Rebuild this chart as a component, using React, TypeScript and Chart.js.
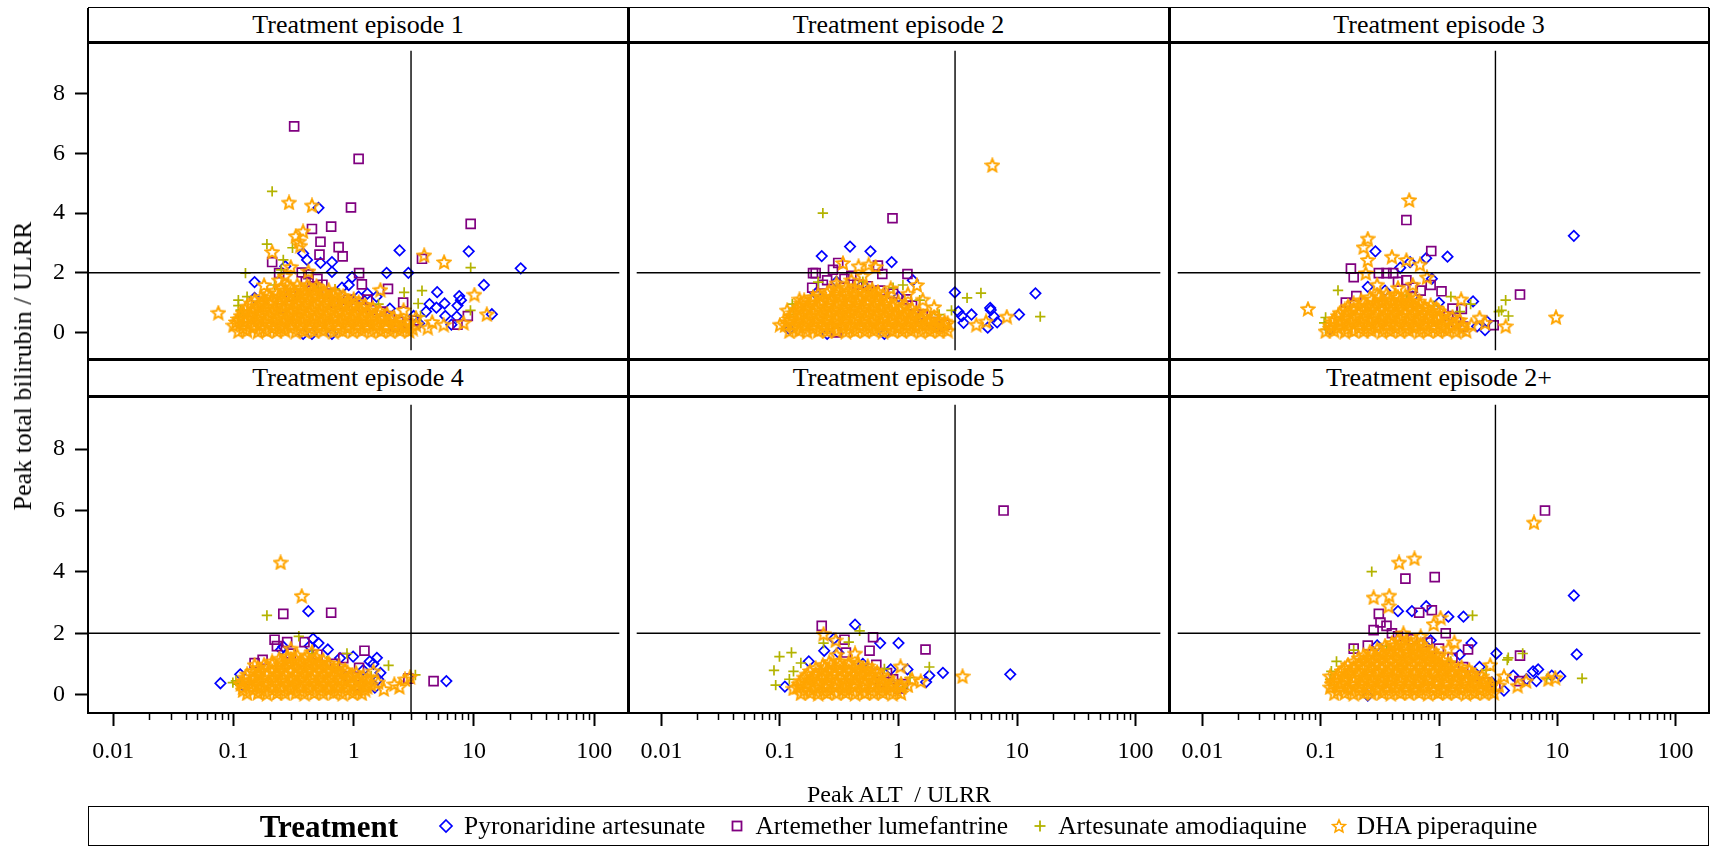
import React, { useEffect, useRef } from "react";
import { Chart, registerables } from "chart.js";
Chart.register(...registerables);

// ---------------- text / ticks ----------------
const TREATMENTS = ["Pyronaridine artesunate", "Artemether lumefantrine", "Artesunate amodiaquine", "DHA piperaquine"];
const PANEL_TITLES = ["Treatment episode 1", "Treatment episode 2", "Treatment episode 3", "Treatment episode 4", "Treatment episode 5", "Treatment episode 2+"];
const X_TICKS = [0.01, 0.1, 1, 10, 100];
const X_TICK_LABELS = ["0.01", "0.1", "1", "10", "100"];
const X_MINOR_DECADES = [0.01, 0.1, 1, 10];
const X_MINOR_MULT = [2, 3, 4, 5, 6, 7, 8, 9];
const Y_TICKS = [0, 2, 4, 6, 8];
const X_MIN = 0.00618;
const X_MAX = 161.8;
const Y_MIN = -0.6;
const Y_MAX = 9.45;
const REF_X = 3;
const REF_Y = 2;
const X_TITLE = "Peak ALT  / ULRR";
const Y_TITLE = "Peak total bilirubin / ULRR";
const LEGEND_TITLE = "Treatment";

// ---------------- data: flat [x, y, x, y, ...] ----------------
// Episode 1
const ep1PA = [0.51,4.18, 2.41,2.75, 9.05,2.72, 24.5,2.15, 1.88,2.0, 2.85,2.0, 12.1,1.59, 4.95,1.35, 7.55,1.22, 7.8,1.08, 5.7,0.97, 4.27,0.95, 4.88,0.83, 7.3,0.9, 5.78,0.55, 7.2,0.53, 14.1,0.61, 6.5,0.26, 3.15,0.55, 0.38,2.65, 0.41,2.43, 0.27,2.22, 0.53,2.33, 0.66,2.36, 0.66,2.03, 0.97,1.85, 0.91,1.59, 0.15,1.69, 0.15,1.16, 0.38,-0.05, 0.45,-0.05, 0.66,-0.05, 1.3,1.3, 1.55,1.2, 3.5,0.3, 4.0,0.7, 0.8,1.5, 1.1,1.2, 2.0,0.8];
const ep1AL = [0.32,6.91, 1.1,5.82, 0.95,4.19, 9.4,3.64, 0.45,3.47, 0.65,3.55, 0.53,3.04, 0.75,2.86, 0.52,2.61, 0.81,2.55, 0.21,2.36, 3.7,2.47, 0.24,1.99, 1.11,1.99, 1.17,1.61, 1.93,1.46, 8.9,0.55, 7.3,0.26, 0.37,2.01, 2.58,1.0, 0.42,1.95, 0.5,1.8, 0.7,1.0, 0.8,0.95, 0.9,1.1, 1.0,0.9, 1.2,0.85, 1.4,0.75, 1.7,0.7, 2.0,0.55, 2.4,0.35, 2.8,0.3, 3.2,0.4, 0.6,1.3, 0.45,1.55, 0.55,1.6, 0.4,1.7, 1.3,1.1, 2.2,0.2, 0.3,1.2, 0.25,0.8];
const ep1ASAQ = [0.21,4.73, 0.19,2.96, 0.31,2.84, 0.26,2.43, 0.126,1.99, 9.4,2.17, 2.63,1.34, 3.44,0.97, 9.36,0.74, 0.22,1.59, 0.11,1.08, 0.11,0.9, 0.115,0.75, 0.12,0.64, 0.11,0.5, 0.12,0.35, 1.61,0.95, 0.25,2.1, 3.6,0.55, 0.13,1.2, 0.5,1.5, 0.7,1.45, 3.7,1.4];
const ep1DHA = [
  0.11,0.04, 0.13,0.06, 0.16,0.03, 0.19,0.05, 0.23,0.04, 0.27,0.06, 0.33,0.03, 0.39,0.05, 0.47,0.04, 0.56,0.06, 0.68,0.03, 0.81,0.05, 0.98,0.04, 1.17,0.06, 1.4,0.03, 1.69,0.05, 2.02,0.04, 2.43,0.06, 2.9,0.05,
  0.12,0.14, 0.145,0.16, 0.175,0.13, 0.21,0.15, 0.25,0.14, 0.3,0.16, 0.36,0.13, 0.43,0.15, 0.51,0.14, 0.62,0.16, 0.74,0.13, 0.89,0.15, 1.07,0.14, 1.28,0.16, 1.54,0.13, 1.85,0.15, 2.22,0.14, 2.66,0.16, 3.1,0.13,
  0.1,0.24, 0.12,0.27, 0.145,0.23, 0.17,0.26, 0.21,0.25, 0.25,0.22, 0.3,0.27, 0.36,0.24, 0.43,0.26, 0.52,0.23, 0.62,0.27, 0.74,0.25, 0.89,0.22, 1.07,0.26, 1.28,0.24, 1.54,0.27, 1.85,0.23, 2.22,0.25, 2.66,0.22, 3.3,0.26,
  0.105,0.35, 0.125,0.37, 0.15,0.34, 0.18,0.36, 0.22,0.35, 0.26,0.33, 0.31,0.37, 0.37,0.34, 0.44,0.36, 0.53,0.35, 0.63,0.33, 0.76,0.37, 0.91,0.34, 1.09,0.36, 1.3,0.35, 1.56,0.33, 1.88,0.37, 2.25,0.34, 2.7,0.33,
  0.11,0.45, 0.13,0.48, 0.16,0.44, 0.19,0.47, 0.23,0.46, 0.27,0.43, 0.33,0.48, 0.39,0.45, 0.47,0.47, 0.56,0.44, 0.68,0.48, 0.81,0.46, 0.98,0.43, 1.17,0.47, 1.4,0.45, 1.69,0.48, 2.05,0.44, 2.5,0.42,
  0.115,0.56, 0.14,0.58, 0.165,0.55, 0.2,0.57, 0.24,0.56, 0.29,0.54, 0.34,0.58, 0.41,0.55, 0.49,0.57, 0.59,0.56, 0.71,0.54, 0.85,0.58, 1.02,0.55, 1.22,0.57, 1.47,0.56, 1.78,0.53, 2.15,0.52,
  0.12,0.66, 0.145,0.69, 0.17,0.65, 0.21,0.68, 0.25,0.67, 0.3,0.64, 0.36,0.69, 0.43,0.66, 0.52,0.68, 0.62,0.65, 0.74,0.69, 0.89,0.67, 1.07,0.64, 1.28,0.68, 1.54,0.66, 1.9,0.62,
  0.125,0.77, 0.15,0.79, 0.18,0.76, 0.22,0.78, 0.26,0.77, 0.31,0.75, 0.37,0.79, 0.45,0.76, 0.54,0.78, 0.65,0.77, 0.78,0.75, 0.93,0.79, 1.12,0.76, 1.35,0.74, 1.65,0.72,
  0.13,0.87, 0.16,0.9, 0.19,0.86, 0.23,0.89, 0.27,0.88, 0.33,0.85, 0.39,0.9, 0.47,0.87, 0.56,0.89, 0.68,0.86, 0.81,0.9, 0.98,0.87, 1.2,0.84, 1.45,0.82,
  0.14,0.98, 0.17,1.0, 0.2,0.97, 0.24,0.99, 0.29,0.98, 0.34,0.96, 0.41,1.0, 0.49,0.97, 0.59,0.99, 0.71,0.98, 0.85,0.96, 1.02,0.95, 1.25,0.92,
  0.15,1.08, 0.18,1.11, 0.21,1.07, 0.25,1.1, 0.3,1.09, 0.36,1.06, 0.43,1.11, 0.52,1.08, 0.62,1.1, 0.74,1.07, 0.9,1.05, 1.1,1.02,
  0.17,1.19, 0.2,1.21, 0.24,1.18, 0.29,1.2, 0.34,1.19, 0.41,1.17, 0.49,1.21, 0.59,1.18, 0.71,1.17, 0.85,1.14, 1.0,1.12,
  0.19,1.28, 0.23,1.32, 0.27,1.29, 0.33,1.31, 0.39,1.3, 0.47,1.27, 0.56,1.32, 0.68,1.26, 0.82,1.22,
  0.22,1.4, 0.27,1.42, 0.32,1.39, 0.39,1.41, 0.47,1.4, 0.57,1.37, 0.7,1.34,
  0.25,1.49, 0.3,1.52, 0.36,1.48, 0.43,1.51, 0.52,1.47, 0.62,1.43,
  0.28,1.58, 0.34,1.6, 0.41,1.57, 0.49,1.56,
  0.075,0.66, 0.29,4.36, 0.45,4.26, 0.33,3.23, 0.38,3.39, 0.36,2.91, 0.21,2.7, 3.86,2.59, 5.65,2.36, 10.1,1.27, 12.8,0.61, 8.2,0.32, 5.6,0.26, 4.13,0.16, 1.67,1.43, 0.27,1.9, 0.18,1.59, 0.35,3.05, 0.3,2.2, 0.42,2.05, 0.24,1.75, 3.3,0.5, 4.5,0.35, 2.6,0.75
];
// Episode 2
const ep2PA = [0.39,2.88, 0.225,2.56, 0.58,2.72, 0.875,2.36, 2.99,1.34, 14.3,1.31, 5.94,0.82, 6.4,0.53, 10.4,0.6, 4.13,0.6, 3.42,0.55, 3.54,0.32, 5.66,0.16, 6.8,0.34, 1.32,1.75, 0.12,0.1, 0.25,-0.05, 0.76,-0.05, 0.3,1.7, 0.5,1.6, 1.0,1.2, 1.5,0.5, 2.0,0.2, 0.2,1.3, 6.0,0.75, 3.2,0.7];
const ep2AL = [0.89,3.83, 0.19,1.99, 0.2,1.99, 0.187,1.5, 0.31,2.33, 0.28,2.1, 0.67,2.24, 0.73,1.96, 1.19,1.96, 1.17,1.11, 2.45,0.26, 0.3,0.0, 0.25,1.75, 0.35,1.8, 0.45,1.6, 0.55,1.55, 0.7,1.4, 0.9,1.3, 1.3,0.9, 1.6,0.6, 1.9,0.35, 2.2,0.2, 0.23,1.6, 0.4,1.9];
const ep2ASAQ = [0.23,4.0, 3.79,1.16, 4.96,1.32, 15.7,0.53, 2.8,0.74, 1.51,1.08, 0.21,1.69, 0.127,0.95, 1.09,1.59, 0.12,0.6, 0.13,0.8, 0.5,1.7, 0.9,1.5, 2.2,0.6];
const ep2DHA = [
  0.12,0.04, 0.145,0.06, 0.17,0.03, 0.21,0.05, 0.25,0.04, 0.3,0.06, 0.36,0.03, 0.43,0.05, 0.52,0.04, 0.62,0.06, 0.74,0.03, 0.89,0.05, 1.07,0.04, 1.28,0.06, 1.54,0.03, 1.85,0.05, 2.22,0.04, 2.6,0.06,
  0.13,0.14, 0.155,0.16, 0.19,0.13, 0.23,0.15, 0.27,0.14, 0.33,0.16, 0.39,0.13, 0.47,0.15, 0.57,0.14, 0.68,0.16, 0.81,0.13, 0.98,0.15, 1.17,0.14, 1.4,0.16, 1.69,0.13, 2.02,0.15, 2.4,0.14,
  0.11,0.24, 0.13,0.27, 0.16,0.23, 0.19,0.26, 0.23,0.25, 0.27,0.22, 0.33,0.27, 0.39,0.24, 0.47,0.26, 0.56,0.23, 0.68,0.27, 0.81,0.25, 0.98,0.22, 1.17,0.26, 1.4,0.24, 1.69,0.27, 2.02,0.23, 2.45,0.25,
  0.115,0.35, 0.14,0.37, 0.165,0.34, 0.2,0.36, 0.24,0.35, 0.29,0.33, 0.35,0.37, 0.42,0.34, 0.5,0.36, 0.6,0.35, 0.72,0.33, 0.86,0.37, 1.03,0.34, 1.24,0.36, 1.48,0.35, 1.78,0.33, 2.15,0.34, 2.6,0.32,
  0.12,0.45, 0.145,0.48, 0.17,0.44, 0.21,0.47, 0.25,0.46, 0.3,0.43, 0.36,0.48, 0.43,0.45, 0.52,0.47, 0.62,0.44, 0.74,0.48, 0.89,0.46, 1.07,0.43, 1.28,0.47, 1.54,0.45, 1.85,0.44, 2.2,0.42,
  0.125,0.56, 0.15,0.58, 0.18,0.55, 0.22,0.57, 0.26,0.56, 0.31,0.54, 0.37,0.58, 0.45,0.55, 0.54,0.57, 0.65,0.56, 0.78,0.54, 0.93,0.58, 1.12,0.55, 1.35,0.57, 1.62,0.54, 2.0,0.52,
  0.13,0.66, 0.16,0.69, 0.19,0.65, 0.23,0.68, 0.27,0.67, 0.33,0.64, 0.39,0.69, 0.47,0.66, 0.56,0.68, 0.68,0.65, 0.81,0.69, 0.98,0.67, 1.17,0.64, 1.4,0.66, 1.75,0.62,
  0.14,0.77, 0.17,0.79, 0.2,0.76, 0.24,0.78, 0.29,0.77, 0.35,0.75, 0.42,0.79, 0.5,0.76, 0.6,0.78, 0.72,0.77, 0.86,0.75, 1.03,0.76, 1.24,0.73, 1.5,0.7,
  0.145,0.87, 0.17,0.9, 0.21,0.86, 0.25,0.89, 0.3,0.88, 0.36,0.85, 0.43,0.9, 0.52,0.87, 0.62,0.89, 0.74,0.86, 0.89,0.88, 1.07,0.84, 1.3,0.8,
  0.15,0.98, 0.18,1.0, 0.22,0.97, 0.26,0.99, 0.31,0.98, 0.37,0.96, 0.45,1.0, 0.54,0.97, 0.65,0.99, 0.78,0.96, 0.93,0.94, 1.15,0.9,
  0.16,1.08, 0.19,1.11, 0.23,1.07, 0.27,1.1, 0.33,1.09, 0.39,1.06, 0.47,1.11, 0.56,1.08, 0.68,1.1, 0.81,1.05, 1.0,1.02,
  0.19,1.19, 0.22,1.21, 0.27,1.18, 0.32,1.2, 0.38,1.19, 0.46,1.17, 0.55,1.21, 0.66,1.18, 0.8,1.15,
  0.21,1.28, 0.25,1.32, 0.3,1.29, 0.36,1.31, 0.43,1.3, 0.52,1.27, 0.62,1.31, 0.74,1.25,
  0.26,1.39, 0.31,1.41, 0.38,1.38, 0.46,1.4, 0.56,1.39, 0.67,1.36,
  0.3,1.48, 0.36,1.51, 0.43,1.47, 0.52,1.5, 0.6,1.45,
  6.19,5.61, 0.34,2.33, 0.46,2.22, 0.56,2.28, 0.64,2.2, 1.43,1.59, 0.86,1.48, 8.2,0.53, 4.54,0.26, 0.1,0.26, 0.115,0.74, 0.146,1.11, 2.0,0.85, 5.48,0.37, 2.45,0.37, 0.5,1.9, 0.4,1.75, 1.2,1.3, 1.6,1.1, 0.3,1.65
];
// Episode 3
const ep3PA = [13.8,3.24, 0.29,2.72, 1.18,2.54, 0.78,2.49, 0.57,2.36, 0.47,2.17, 0.87,1.8, 1.94,1.04, 2.54,0.37, 2.45,0.08, 0.25,1.53, 0.35,1.4, 0.6,1.2, 1.0,1.0, 1.3,0.5, 2.1,0.2, 0.12,0.1];
const ep3AL = [0.53,3.77, 0.86,2.73, 0.18,2.14, 0.19,1.85, 4.84,1.27, 0.2,1.22, 0.163,1.0, 1.05,1.38, 0.85,1.59, 2.9,0.24, 1.56,0.79, 0.31,1.99, 0.36,1.99, 0.41,1.99, 0.53,1.75, 0.6,1.5, 0.7,1.4, 0.45,1.7, 1.2,0.55, 1.4,0.35, 1.6,0.2, 1.3,0.8];
const ep3ASAQ = [0.14,1.41, 3.66,1.08, 3.38,0.74, 3.86,0.55, 0.107,0.32, 1.26,1.2, 1.85,0.95, 0.53,1.25, 0.11,0.1, 0.11,0.5, 0.9,0.9, 1.5,0.7, 3.2,0.7];
const ep3DHA = [
  0.11,0.04, 0.13,0.06, 0.16,0.03, 0.19,0.05, 0.23,0.04, 0.27,0.06, 0.33,0.03, 0.39,0.05, 0.47,0.04, 0.56,0.06, 0.68,0.03, 0.81,0.05, 0.98,0.04, 1.17,0.06, 1.4,0.03, 1.7,0.05,
  0.12,0.14, 0.14,0.16, 0.17,0.13, 0.21,0.15, 0.25,0.14, 0.3,0.16, 0.36,0.13, 0.43,0.15, 0.52,0.14, 0.62,0.16, 0.74,0.13, 0.89,0.15, 1.07,0.14, 1.28,0.16, 1.55,0.13,
  0.12,0.24, 0.145,0.27, 0.17,0.23, 0.21,0.26, 0.25,0.25, 0.3,0.22, 0.36,0.27, 0.43,0.24, 0.52,0.26, 0.62,0.23, 0.74,0.27, 0.89,0.25, 1.07,0.22, 1.3,0.26, 1.6,0.24,
  0.125,0.35, 0.15,0.37, 0.18,0.34, 0.22,0.36, 0.26,0.35, 0.31,0.33, 0.37,0.37, 0.45,0.34, 0.54,0.36, 0.65,0.35, 0.78,0.33, 0.93,0.37, 1.12,0.34, 1.4,0.33,
  0.13,0.45, 0.16,0.48, 0.19,0.44, 0.23,0.47, 0.27,0.46, 0.33,0.43, 0.39,0.48, 0.47,0.45, 0.56,0.47, 0.68,0.44, 0.81,0.48, 0.98,0.46, 1.2,0.43, 1.5,0.42,
  0.14,0.56, 0.165,0.58, 0.2,0.55, 0.24,0.57, 0.29,0.56, 0.34,0.54, 0.41,0.58, 0.49,0.55, 0.59,0.57, 0.71,0.56, 0.85,0.54, 1.02,0.55, 1.3,0.52,
  0.145,0.66, 0.17,0.69, 0.21,0.65, 0.25,0.68, 0.3,0.67, 0.36,0.64, 0.43,0.69, 0.52,0.66, 0.62,0.68, 0.74,0.65, 0.89,0.67, 1.1,0.62,
  0.16,0.77, 0.19,0.79, 0.23,0.76, 0.27,0.78, 0.33,0.77, 0.39,0.75, 0.47,0.79, 0.57,0.76, 0.68,0.78, 0.82,0.75, 1.0,0.72,
  0.17,0.87, 0.21,0.9, 0.25,0.86, 0.3,0.89, 0.36,0.88, 0.43,0.85, 0.52,0.9, 0.62,0.87, 0.76,0.85, 0.95,0.82,
  0.19,0.98, 0.23,1.0, 0.28,0.97, 0.33,0.99, 0.4,0.98, 0.48,0.96, 0.57,0.99, 0.69,0.95, 0.85,0.92,
  0.22,1.08, 0.27,1.11, 0.33,1.07, 0.39,1.1, 0.47,1.09, 0.56,1.06, 0.68,1.04,
  0.26,1.18, 0.31,1.2, 0.37,1.17, 0.45,1.19, 0.54,1.16, 0.63,1.14,
  0.3,1.27, 0.36,1.3, 0.43,1.26, 0.52,1.25,
  0.56,4.44, 0.25,3.15, 0.23,2.86, 0.25,2.43, 0.4,2.54, 0.53,2.43, 0.69,2.28, 0.79,1.85, 0.24,1.99, 0.078,0.79, 1.54,1.11, 9.75,0.51, 3.66,0.21, 2.45,0.32, 1.88,0.26, 0.3,1.6, 0.45,1.5, 0.6,1.6, 2.2,0.5
];
// Episode 4
const ep4PA = [0.42,2.72, 5.9,0.44, 0.078,0.37, 0.46,1.82, 0.51,1.68, 0.61,1.47, 0.43,1.58, 0.26,1.56, 0.25,1.47, 0.99,1.24, 1.56,1.2, 1.36,1.08, 1.46,1.0, 1.67,0.71, 1.5,0.23, 0.114,0.66, 0.77,1.19, 0.12,0.3, 1.2,0.8, 1.6,0.5];
const ep4AL = [0.26,2.63, 0.65,2.67, 0.22,1.79, 0.23,1.58, 0.28,1.71, 0.39,1.71, 1.23,1.43, 0.82,1.19, 0.175,1.13, 0.15,1.03, 4.62,0.44, 2.85,0.52, 1.11,0.87, 0.3,1.34, 0.5,1.3, 0.7,1.0, 0.9,0.6, 1.1,0.3];
const ep4ASAQ = [0.19,2.58, 0.35,1.9, 0.88,1.34, 1.95,0.95, 3.26,0.64, 0.099,0.39, 0.109,0.34, 0.45,1.34, 0.74,0.9, 0.105,0.45, 0.6,1.1, 1.4,0.6];
const ep4DHA = [
  0.13,0.04, 0.16,0.06, 0.19,0.03, 0.23,0.05, 0.27,0.04, 0.33,0.06, 0.39,0.03, 0.47,0.05, 0.56,0.04, 0.68,0.06, 0.81,0.03, 0.98,0.05, 1.17,0.04,
  0.12,0.14, 0.145,0.16, 0.175,0.13, 0.21,0.15, 0.25,0.14, 0.3,0.16, 0.36,0.13, 0.43,0.15, 0.52,0.14, 0.62,0.16, 0.74,0.13, 0.89,0.15, 1.07,0.14, 1.25,0.16,
  0.12,0.24, 0.145,0.27, 0.17,0.23, 0.21,0.26, 0.25,0.25, 0.3,0.22, 0.36,0.27, 0.43,0.24, 0.52,0.26, 0.62,0.23, 0.74,0.27, 0.89,0.25, 1.07,0.22, 1.3,0.26,
  0.115,0.35, 0.135,0.37, 0.16,0.34, 0.19,0.36, 0.23,0.35, 0.28,0.33, 0.33,0.37, 0.4,0.34, 0.48,0.36, 0.57,0.35, 0.68,0.33, 0.82,0.37, 0.98,0.34, 1.18,0.36, 1.4,0.33,
  0.12,0.45, 0.145,0.48, 0.17,0.44, 0.21,0.47, 0.25,0.46, 0.3,0.43, 0.36,0.48, 0.43,0.45, 0.52,0.47, 0.62,0.44, 0.74,0.48, 0.89,0.46, 1.07,0.43, 1.3,0.42,
  0.125,0.56, 0.15,0.58, 0.18,0.55, 0.22,0.57, 0.26,0.56, 0.31,0.54, 0.37,0.58, 0.45,0.55, 0.54,0.57, 0.65,0.56, 0.78,0.54, 0.93,0.58, 1.12,0.55, 1.3,0.52,
  0.13,0.66, 0.16,0.69, 0.19,0.65, 0.23,0.68, 0.27,0.67, 0.33,0.64, 0.39,0.69, 0.47,0.66, 0.56,0.68, 0.68,0.65, 0.81,0.69, 0.98,0.64, 1.2,0.6,
  0.145,0.77, 0.17,0.79, 0.21,0.76, 0.25,0.78, 0.3,0.77, 0.36,0.75, 0.43,0.79, 0.52,0.76, 0.62,0.78, 0.74,0.76, 0.89,0.74, 1.05,0.71,
  0.16,0.87, 0.19,0.9, 0.23,0.86, 0.27,0.89, 0.33,0.88, 0.39,0.85, 0.47,0.9, 0.56,0.87, 0.68,0.85, 0.85,0.8,
  0.18,0.98, 0.21,1.0, 0.25,0.97, 0.3,0.99, 0.36,0.98, 0.43,0.96, 0.52,0.99, 0.62,0.95, 0.75,0.92,
  0.21,1.08, 0.25,1.11, 0.3,1.07, 0.36,1.1, 0.43,1.09, 0.52,1.06, 0.62,1.03,
  0.24,1.17, 0.28,1.19, 0.33,1.16, 0.39,1.18, 0.47,1.15, 0.56,1.13,
  0.28,1.25, 0.34,1.28, 0.41,1.24, 0.49,1.22,
  0.247,4.31, 0.37,3.22, 1.78,0.18, 2.18,0.34, 2.67,0.5, 2.95,0.58, 1.46,0.76, 1.27,0.29, 0.15,0.97, 0.3,1.5, 0.45,1.4, 1.6,0.4, 2.4,0.25
];
// Episode 5
const ep5PA = [0.43,2.28, 0.7,1.68, 1.0,1.68, 0.236,1.43, 0.31,1.37, 0.175,1.08, 2.37,0.71, 8.77,0.66, 1.82,0.62, 1.19,0.82, 1.71,0.41, 0.11,0.26, 0.285,1.82, 0.86,0.82, 0.9,0.3, 0.5,1.0];
const ep5AL = [7.7,6.0, 0.225,2.24, 0.35,1.79, 0.61,1.87, 0.57,1.43, 1.69,1.47, 0.36,1.37, 0.65,0.97, 1.09,0.34, 0.8,0.7, 0.9,0.5, 1.0,0.2, 0.7,0.4];
const ep5ASAQ = [0.47,2.08, 0.38,1.71, 0.233,1.68, 0.099,1.24, 0.125,1.37, 0.089,0.79, 0.092,0.31, 0.13,0.76, 0.15,1.03, 1.82,0.9, 1.09,0.23, 1.25,0.55, 0.76,0.84, 0.12,0.5, 0.14,0.3];
const ep5DHA = [
  0.15,0.04, 0.18,0.06, 0.21,0.03, 0.25,0.05, 0.3,0.04, 0.36,0.06, 0.43,0.03, 0.52,0.05, 0.62,0.04, 0.74,0.06, 0.89,0.03, 1.05,0.05,
  0.16,0.14, 0.19,0.16, 0.23,0.13, 0.27,0.15, 0.33,0.14, 0.39,0.16, 0.47,0.13, 0.57,0.15, 0.68,0.14, 0.81,0.16, 0.97,0.13,
  0.14,0.24, 0.17,0.27, 0.2,0.23, 0.24,0.26, 0.29,0.25, 0.35,0.22, 0.42,0.27, 0.5,0.24, 0.6,0.26, 0.72,0.23, 0.86,0.27, 1.05,0.25,
  0.145,0.35, 0.17,0.37, 0.21,0.34, 0.25,0.36, 0.3,0.35, 0.36,0.33, 0.43,0.37, 0.52,0.34, 0.62,0.36, 0.74,0.35, 0.89,0.33, 1.05,0.36,
  0.15,0.45, 0.18,0.48, 0.21,0.44, 0.25,0.47, 0.3,0.46, 0.36,0.43, 0.43,0.48, 0.52,0.45, 0.62,0.47, 0.74,0.44, 0.9,0.42,
  0.16,0.56, 0.19,0.58, 0.23,0.55, 0.27,0.57, 0.33,0.56, 0.39,0.54, 0.47,0.58, 0.57,0.55, 0.68,0.57, 0.81,0.53,
  0.17,0.66, 0.2,0.69, 0.24,0.65, 0.29,0.68, 0.35,0.67, 0.42,0.64, 0.5,0.69, 0.6,0.66, 0.72,0.63,
  0.18,0.77, 0.22,0.79, 0.26,0.76, 0.32,0.78, 0.38,0.77, 0.46,0.75, 0.55,0.78, 0.66,0.74,
  0.2,0.87, 0.24,0.9, 0.29,0.86, 0.35,0.89, 0.42,0.88, 0.5,0.85, 0.6,0.83,
  0.23,0.97, 0.27,0.99, 0.32,0.96, 0.38,0.98, 0.46,0.95, 0.55,0.93,
  0.26,1.06, 0.32,1.09, 0.38,1.05, 0.45,1.03,
  3.47,0.6, 0.233,1.98, 0.295,1.77, 1.04,0.92, 1.54,0.44, 0.43,1.34, 0.3,1.3, 1.3,0.5, 1.2,0.3, 0.13,0.2
];
// Episode 2+
const ep6PA = [13.8,3.23, 14.6,1.31, 0.45,2.72, 0.59,2.72, 0.78,2.88, 1.2,2.54, 1.61,2.54, 1.88,1.68, 3.06,1.34, 6.24,0.76, 6.89,0.82, 8.98,0.62, 10.6,0.6, 6.66,0.44, 4.24,0.62, 3.54,0.13, 0.25,-0.03, 0.85,1.77, 0.3,1.6, 1.5,1.3, 2.2,0.9, 2.8,0.4, 5.5,0.5];
const ep6AL = [7.87,6.0, 0.52,3.78, 0.92,3.83, 0.31,2.63, 0.68,2.67, 0.87,2.75, 0.32,2.35, 0.28,2.1, 0.19,1.5, 1.76,1.47, 4.84,1.27, 4.78,0.44, 1.14,2.0, 0.36,2.24, 0.45,1.9, 0.6,1.8, 0.8,1.7, 1.0,1.5, 1.3,1.2, 1.6,0.9, 2.0,0.6, 2.5,0.4, 3.0,0.25, 0.25,1.6, 0.4,2.0];
const ep6ASAQ = [0.27,4.01, 1.92,2.58, 16.2,0.53, 3.78,1.13, 3.85,1.2, 5.1,1.34, 0.123,0.76, 0.136,1.08, 0.19,1.45, 8.13,0.52, 1.26,1.08, 0.36,1.58, 0.12,0.5, 0.13,0.3, 2.5,0.8];
const ep6DHA = [
  0.13,0.04, 0.16,0.06, 0.19,0.03, 0.23,0.05, 0.27,0.04, 0.33,0.06, 0.39,0.03, 0.47,0.05, 0.56,0.04, 0.68,0.06, 0.81,0.03, 0.98,0.05, 1.17,0.04, 1.4,0.06, 1.69,0.03, 2.02,0.05, 2.43,0.04, 2.9,0.06,
  0.14,0.14, 0.175,0.16, 0.21,0.13, 0.25,0.15, 0.3,0.14, 0.36,0.16, 0.43,0.13, 0.52,0.15, 0.62,0.14, 0.74,0.16, 0.89,0.13, 1.07,0.15, 1.28,0.14, 1.54,0.16, 1.85,0.13, 2.22,0.15, 2.66,0.14,
  0.12,0.24, 0.145,0.27, 0.17,0.23, 0.21,0.26, 0.25,0.25, 0.3,0.22, 0.36,0.27, 0.43,0.24, 0.52,0.26, 0.62,0.23, 0.74,0.27, 0.89,0.25, 1.07,0.22, 1.28,0.26, 1.54,0.24, 1.85,0.27, 2.22,0.23, 2.7,0.25,
  0.125,0.35, 0.15,0.37, 0.18,0.34, 0.22,0.36, 0.26,0.35, 0.31,0.33, 0.37,0.37, 0.45,0.34, 0.54,0.36, 0.65,0.35, 0.78,0.33, 0.93,0.37, 1.12,0.34, 1.35,0.36, 1.62,0.35, 1.95,0.33, 2.35,0.36, 2.8,0.33,
  0.13,0.45, 0.16,0.48, 0.19,0.44, 0.23,0.47, 0.27,0.46, 0.33,0.43, 0.39,0.48, 0.47,0.45, 0.56,0.47, 0.68,0.44, 0.81,0.48, 0.98,0.46, 1.17,0.43, 1.4,0.47, 1.69,0.45, 2.05,0.44, 2.5,0.42,
  0.135,0.56, 0.16,0.58, 0.19,0.55, 0.23,0.57, 0.28,0.56, 0.33,0.54, 0.4,0.58, 0.48,0.55, 0.57,0.57, 0.68,0.56, 0.82,0.54, 0.98,0.58, 1.17,0.55, 1.4,0.57, 1.7,0.54, 2.05,0.53, 2.4,0.5,
  0.14,0.66, 0.17,0.69, 0.21,0.65, 0.25,0.68, 0.3,0.67, 0.36,0.64, 0.43,0.69, 0.52,0.66, 0.62,0.68, 0.74,0.65, 0.89,0.69, 1.07,0.67, 1.28,0.64, 1.54,0.66, 1.9,0.63, 2.3,0.6,
  0.15,0.77, 0.18,0.79, 0.21,0.76, 0.26,0.78, 0.31,0.77, 0.37,0.75, 0.44,0.79, 0.53,0.76, 0.63,0.78, 0.76,0.77, 0.91,0.75, 1.09,0.79, 1.3,0.76, 1.57,0.73, 1.9,0.7,
  0.16,0.87, 0.19,0.9, 0.23,0.86, 0.27,0.89, 0.33,0.88, 0.39,0.85, 0.47,0.9, 0.56,0.87, 0.68,0.89, 0.81,0.86, 0.98,0.9, 1.17,0.87, 1.45,0.84, 1.8,0.8,
  0.17,0.98, 0.21,1.0, 0.25,0.97, 0.3,0.99, 0.36,0.98, 0.43,0.96, 0.51,1.0, 0.61,0.97, 0.73,0.99, 0.88,0.98, 1.06,0.96, 1.28,0.94, 1.55,0.9,
  0.19,1.08, 0.23,1.11, 0.27,1.07, 0.33,1.1, 0.39,1.09, 0.47,1.06, 0.56,1.11, 0.68,1.08, 0.81,1.1, 0.98,1.05, 1.2,1.02,
  0.21,1.19, 0.25,1.21, 0.3,1.18, 0.36,1.2, 0.43,1.19, 0.51,1.17, 0.61,1.21, 0.73,1.18, 0.88,1.16, 1.08,1.12,
  0.23,1.28, 0.27,1.32, 0.33,1.29, 0.39,1.31, 0.47,1.3, 0.56,1.27, 0.68,1.32, 0.81,1.26, 0.98,1.22,
  0.26,1.4, 0.32,1.42, 0.38,1.39, 0.46,1.41, 0.55,1.4, 0.66,1.38, 0.8,1.36, 0.95,1.33,
  0.3,1.48, 0.36,1.51, 0.43,1.47, 0.52,1.5, 0.62,1.49, 0.74,1.46, 0.88,1.42,
  0.35,1.6, 0.43,1.62, 0.52,1.59, 0.63,1.58, 0.76,1.55,
  0.4,1.68, 0.48,1.71, 0.58,1.67, 0.7,1.64,
  0.45,1.78, 0.53,1.8, 0.64,1.76,
  6.35,5.61, 0.46,4.31, 0.62,4.44, 0.28,3.17, 0.38,3.23, 0.375,2.88, 1.03,2.51, 0.9,2.3, 2.71,0.97, 4.62,0.29, 5.46,0.44, 8.4,0.5, 9.6,0.55, 3.54,0.6, 1.35,1.71, 0.5,2.0, 0.7,1.9, 1.2,1.5, 3.2,0.3, 0.12,0.6
];

const PANEL_SERIES = [
  [ep1PA, ep1AL, ep1ASAQ, ep1DHA],
  [ep2PA, ep2AL, ep2ASAQ, ep2DHA],
  [ep3PA, ep3AL, ep3ASAQ, ep3DHA],
  [ep4PA, ep4AL, ep4ASAQ, ep4DHA],
  [ep5PA, ep5AL, ep5ASAQ, ep5DHA],
  [ep6PA, ep6AL, ep6ASAQ, ep6DHA],
];

// ---------------- styling / layout ----------------
const FONT = "'Liberation Serif', 'Times New Roman', serif";
const COLORS = ["#0000FF", "#800080", "#B3B300", "#FFA500"];
const COL_X = [88, 628, 1169, 1709];
const HEAD_TOP = [7.5, 360];
const PLOT_TOP = [42, 396];
const PLOT_BOTTOM = [359, 713];
const Y_AXIS_W = 88;
const X_AXIS_H = 80;

const toPts = (a: number[]) => {
  const out: { x: number; y: number }[] = [];
  for (let i = 0; i < a.length; i += 2) out.push({ x: a[i], y: a[i + 1] });
  return out;
};

function starPath(cx: number, cy: number, R: number, r: number) {
  const pts: [number, number][] = [];
  for (let i = 0; i < 10; i++) {
    const ang = -Math.PI / 2 + (i * Math.PI) / 5;
    const rad = i % 2 === 0 ? R : r;
    pts.push([cx + rad * Math.cos(ang), cy + rad * Math.sin(ang)]);
  }
  return pts;
}

function makeStar(color: string, size: number) {
  const c = document.createElement("canvas");
  c.width = size;
  c.height = size;
  const ctx = c.getContext("2d")!;
  const pts = starPath(size / 2, size / 2 + 0.6, size / 2 - 1.3, (size / 2 - 1.3) * 0.46);
  ctx.beginPath();
  pts.forEach(([x, y], i) => (i ? ctx.lineTo(x, y) : ctx.moveTo(x, y)));
  ctx.closePath();
  ctx.strokeStyle = color;
  ctx.lineWidth = 2;
  ctx.stroke();
  return c;
}

const zeroPad = (s: any) => {
  s.paddingTop = 0;
  s.paddingBottom = 0;
  s.paddingLeft = 0;
  s.paddingRight = 0;
};

function Panel({ idx }: { idx: number }) {
  const ref = useRef<HTMLCanvasElement>(null);
  const r = Math.floor(idx / 3);
  const c = idx % 3;
  const left = c === 0 ? 0 : COL_X[c];
  const width = COL_X[c + 1] - left;
  const top = PLOT_TOP[r];
  const height = PLOT_BOTTOM[r] - PLOT_TOP[r] + (r === 1 ? X_AXIS_H : 0);
  const showY = c === 0;
  const showX = r === 1;

  useEffect(() => {
    const star = makeStar(COLORS[3], 16);
    const styles: any[] = ["rectRot", "rect", "cross", star];
    const radii = [5.2, 6.3, 5.2, 7];
    const datasets = PANEL_SERIES[idx].map((arr, i) => ({
      label: TREATMENTS[i],
      data: toPts(arr),
      pointStyle: styles[i],
      pointRadius: radii[i],
      pointBorderWidth: 1.7,
      borderColor: COLORS[i],
      pointBorderColor: COLORS[i],
      backgroundColor: "rgba(0,0,0,0)",
      pointBackgroundColor: "rgba(0,0,0,0)",
      showLine: false,
      clip: false,
      order: 3 - i,
    }));

    const refLines = {
      id: "refLines",
      afterDatasetsDraw(chart: any) {
        const { ctx, chartArea: a, scales } = chart;
        const px = scales.x.getPixelForValue(REF_X);
        const py = scales.y.getPixelForValue(REF_Y);
        ctx.save();
        ctx.strokeStyle = "#000";
        ctx.lineWidth = 1.4;
        ctx.beginPath();
        ctx.moveTo(px, a.top);
        ctx.lineTo(px, a.bottom);
        ctx.moveTo(a.left, py);
        ctx.lineTo(a.right, py);
        ctx.stroke();
        ctx.restore();
      },
    };
    const minorTicks = {
      id: "minorTicks",
      afterDraw(chart: any) {
        if (!showX) return;
        const { ctx, chartArea: a, scales } = chart;
        ctx.save();
        ctx.strokeStyle = "#000";
        ctx.lineWidth = 1.5;
        ctx.beginPath();
        X_MINOR_DECADES.forEach((d) =>
          X_MINOR_MULT.forEach((m) => {
            const px = Math.round(scales.x.getPixelForValue(d * m)) + 0.5;
            ctx.moveTo(px, a.bottom);
            ctx.lineTo(px, a.bottom + 7);
          })
        );
        ctx.stroke();
        ctx.restore();
      },
    };

    const chart = new Chart(ref.current!, {
      type: "scatter",
      data: { datasets },
      options: {
        responsive: false,
        maintainAspectRatio: false,
        animation: false,
        devicePixelRatio: 1,
        events: [],
        layout: { padding: 0 },
        plugins: { legend: { display: false }, tooltip: { enabled: false }, title: { display: false } },
        scales: {
          x: {
            type: "logarithmic",
            min: X_MIN,
            max: X_MAX,
            display: showX,
            position: "bottom",
            afterBuildTicks: (s: any) => {
              s.ticks = X_TICKS.map((v) => ({ value: v, major: true }));
            },
            afterFit: (s: any) => {
              if (showX) s.height = X_AXIS_H;
              zeroPad(s);
            },
            grid: { drawOnChartArea: false, drawTicks: true, tickLength: 13, tickWidth: 2, tickColor: "#000" },
            border: { display: false },
            ticks: {
              autoSkip: false,
              maxRotation: 0,
              color: "#000",
              padding: 11,
              font: { family: FONT, size: 24 },
              callback: (v: any) => {
                const k = X_TICKS.indexOf(Number(v));
                return k >= 0 ? X_TICK_LABELS[k] : "";
              },
            },
          },
          y: {
            type: "linear",
            min: Y_MIN,
            max: Y_MAX,
            display: showY,
            position: "left",
            afterBuildTicks: (s: any) => {
              s.ticks = Y_TICKS.map((v) => ({ value: v }));
            },
            afterFit: (s: any) => {
              if (showY) s.width = Y_AXIS_W;
              zeroPad(s);
            },
            grid: { drawOnChartArea: false, drawTicks: true, tickLength: 13, tickWidth: 2, tickColor: "#000" },
            border: { display: false },
            ticks: { color: "#000", padding: 10, font: { family: FONT, size: 24 }, callback: (v: any) => String(v) },
          },
        },
      } as any,
      plugins: [refLines, minorTicks],
    });
    return () => chart.destroy();
  }, []);

  return (
    <canvas
      ref={ref}
      width={width}
      height={height}
      style={{ position: "absolute", left, top, width, height }}
    />
  );
}

const hLine = (key: string, y: number, x1: number, x2: number, w: number) => (
  <div key={key} style={{ position: "absolute", left: x1, top: y - w / 2, width: x2 - x1, height: w, background: "#000" }} />
);
const vLine = (key: string, x: number, y1: number, y2: number, w: number) => (
  <div key={key} style={{ position: "absolute", left: x - w / 2, top: y1, width: w, height: y2 - y1, background: "#000" }} />
);

function LegendMarker({ i }: { i: number }) {
  const col = COLORS[i];
  const s = 16;
  let shape: any = null;
  if (i === 0) shape = <polygon points="8,2 14,8 8,14 2,8" fill="none" stroke={col} strokeWidth={1.7} />;
  if (i === 1) shape = <rect x={3.5} y={3.5} width={9} height={9} fill="none" stroke={col} strokeWidth={1.8} />;
  if (i === 2)
    shape = (
      <g stroke={col} strokeWidth={1.8}>
        <line x1={2.5} y1={8} x2={13.5} y2={8} />
        <line x1={8} y1={2.5} x2={8} y2={13.5} />
      </g>
    );
  if (i === 3)
    shape = (
      <polygon
        points={starPath(8, 8.6, 6.6, 3).map((p) => p.join(",")).join(" ")}
        fill="none"
        stroke={col}
        strokeWidth={1.6}
      />
    );
  return (
    <svg width={s} height={s} style={{ display: "block" }}>
      {shape}
    </svg>
  );
}

export default function App() {
  const W = 1715;
  const H = 847;
  const lines: any[] = [];
  const L = COL_X[0];
  const R = COL_X[3];
  lines.push(hLine("ht", HEAD_TOP[0], L, R, 1.5));
  lines.push(hLine("hb0", PLOT_TOP[0], L, R, 3));
  lines.push(hLine("rs", PLOT_BOTTOM[0] + 0.5, L, R, 3));
  lines.push(hLine("hb1", PLOT_TOP[1], L, R, 3));
  lines.push(hLine("ax", PLOT_BOTTOM[1], L - 1, R + 1, 2));
  lines.push(vLine("lb", L, HEAD_TOP[0], PLOT_BOTTOM[1], 2));
  lines.push(vLine("rb", R, HEAD_TOP[0], PLOT_BOTTOM[1], 1.5));
  lines.push(vLine("s1", COL_X[1], HEAD_TOP[0], PLOT_BOTTOM[1], 3));
  lines.push(vLine("s2", COL_X[2], HEAD_TOP[0], PLOT_BOTTOM[1], 3));

  return (
    <div style={{ position: "fixed", left: 0, top: 0, width: W, height: H, background: "#fff", overflow: "hidden", fontFamily: FONT }}>
      {[0, 1, 2, 3, 4, 5].map((i) => (
        <Panel key={i} idx={i} />
      ))}
      {[0, 1, 2, 3, 4, 5].map((i) => {
        const r = Math.floor(i / 3);
        const c = i % 3;
        return (
          <div
            key={"h" + i}
            style={{
              position: "absolute",
              left: COL_X[c],
              top: HEAD_TOP[r],
              width: COL_X[c + 1] - COL_X[c],
              height: PLOT_TOP[r] - HEAD_TOP[r],
              display: "flex",
              alignItems: "center",
              justifyContent: "center",
              fontSize: 26,
              lineHeight: 1,
              color: "#000",
              whiteSpace: "nowrap",
              background: "#fff",
            }}
          >
            {PANEL_TITLES[i]}
          </div>
        );
      })}
      {lines}
      <div
        style={{
          position: "absolute",
          left: 23,
          top: 366,
          transform: "translate(-50%, -50%) rotate(-90deg)",
          fontSize: 26,
          lineHeight: 1,
          whiteSpace: "nowrap",
          color: "#000",
        }}
      >
        {Y_TITLE}
      </div>
      <div
        style={{
          position: "absolute",
          left: 899,
          top: 794,
          transform: "translate(-50%, -50%)",
          fontSize: 24,
          lineHeight: 1,
          whiteSpace: "pre",
          color: "#000",
        }}
      >
        {X_TITLE}
      </div>
      <div
        style={{
          position: "absolute",
          left: L,
          top: 806,
          width: R - L,
          height: 40,
          border: "1.5px solid #000",
          boxSizing: "border-box",
          display: "flex",
          alignItems: "center",
          justifyContent: "center",
          color: "#000",
        }}
      >
        <span style={{ fontWeight: "bold", fontSize: 31, lineHeight: 1, marginRight: 40 }}>{LEGEND_TITLE}</span>
        {TREATMENTS.map((t, i) => (
          <div key={t} style={{ display: "flex", alignItems: "center", marginRight: i < 3 ? 24 : 0 }}>
            <LegendMarker i={i} />
            <span style={{ fontSize: 25.5, lineHeight: 1, marginLeft: 10, whiteSpace: "nowrap" }}>{t}</span>
          </div>
        ))}
      </div>
    </div>
  );
}
